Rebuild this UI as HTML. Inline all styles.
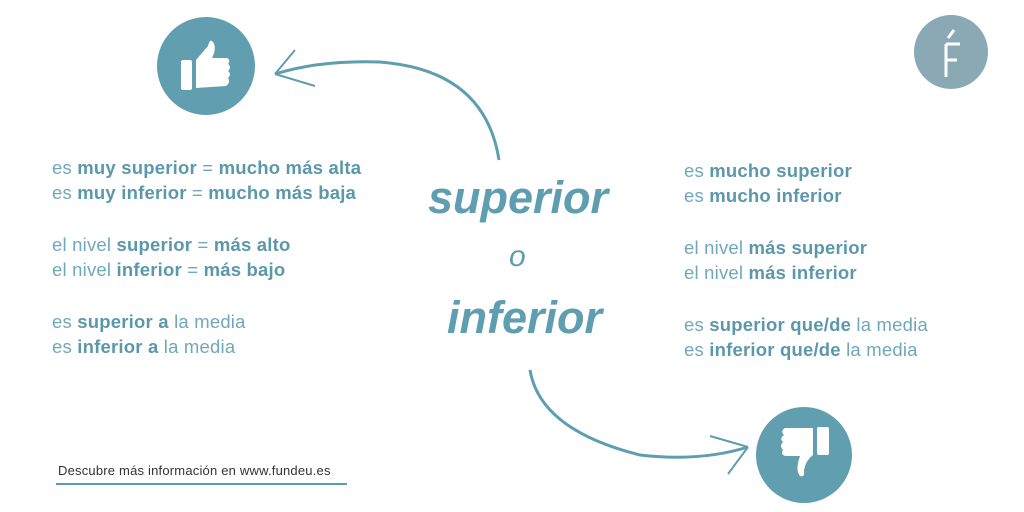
<!DOCTYPE html>
<html><head><meta charset="utf-8"><style>
body{margin:0;width:1024px;height:512px;background:#fff;position:relative;overflow:hidden;font-family:"Liberation Sans",sans-serif;color:#5f9db0}
.t{position:absolute;font-size:18.5px;line-height:25px;white-space:nowrap;color:#6fa8ba;letter-spacing:0.2px}
.t b{color:#5b98ab;font-weight:bold}
.big{position:absolute;font-style:italic;font-weight:bold;color:#5f9db0;white-space:nowrap}
</style></head><body>
<svg width="1024" height="512" style="position:absolute;left:0;top:0">
<circle cx="206" cy="66" r="49" fill="#619fb0"/>
<rect x="181" y="60" width="11" height="30" rx="2" fill="#fff"/>
<path d="M196 60 L208 46 Q210 38 213 42 Q217 48 212 58 L227 58 Q231 60 228 64 Q232 67 228 71 Q232 74 228 78 Q231 82 226 86 L196 88 Z" fill="#fff"/>
<circle cx="804" cy="455" r="48" fill="#619fb0"/>
<rect x="817" y="427" width="12" height="28" rx="2" fill="#fff"/>
<path d="M813 428 L785 428 Q780 431 784 435 Q779 438 783 442 Q779 446 783 450 Q780 455 786 456 L800 456 Q795 470 800 476 Q805 478 804 470 Q806 460 813 455 Z" fill="#fff"/>
<circle cx="951" cy="52" r="37" fill="#8aa9b5"/>
<path d="M946 44 L946 77 M946 44 L960 44 M946 60 L957 60 M948 38 L954 30" fill="none" stroke="#fff" stroke-width="3"/>
<path d="M499 160 Q485 70 380 62 Q320 60 275 74" fill="none" stroke="#5f9db0" stroke-width="3"/>
<path d="M275 74 L295 50 M275 74 L315 86" fill="none" stroke="#5f9db0" stroke-width="2"/>
<path d="M530 370 Q540 430 640 455 Q700 462 748 447" fill="none" stroke="#5f9db0" stroke-width="3"/>
<path d="M748 447 L710 436 M748 447 L728 474" fill="none" stroke="#5f9db0" stroke-width="2"/>
<line x1="56" y1="484" x2="347" y2="484" stroke="#5f9db0" stroke-width="2"/>
</svg>
<div class="t" style="left:52px;top:155px">es <b>muy superior</b> = <b>mucho más alta</b><br>es <b>muy inferior</b> = <b>mucho más baja</b></div>
<div class="t" style="left:52px;top:232px">el nivel <b>superior</b> = <b>más alto</b><br>el nivel <b>inferior</b> = <b>más bajo</b></div>
<div class="t" style="left:52px;top:309px">es <b>superior a</b> la media<br>es <b>inferior a</b> la media</div>
<div class="t" style="left:684px;top:158px">es <b>mucho superior</b><br>es <b>mucho inferior</b></div>
<div class="t" style="left:684px;top:235px">el nivel <b>más superior</b><br>el nivel <b>más inferior</b></div>
<div class="t" style="left:684px;top:312px">es <b>superior que/de</b> la media<br>es <b>inferior que/de</b> la media</div>
<div class="big" style="left:428px;top:172px;font-size:45px">superior</div>
<div class="big" style="left:509px;top:240px;font-size:30px;font-weight:normal">o</div>
<div class="big" style="left:447px;top:292px;font-size:45px">inferior</div>
<div class="t" style="left:58px;top:462px;font-size:13px;line-height:18px;color:#333">Descubre más información en www.fundeu.es</div>
</body></html>
